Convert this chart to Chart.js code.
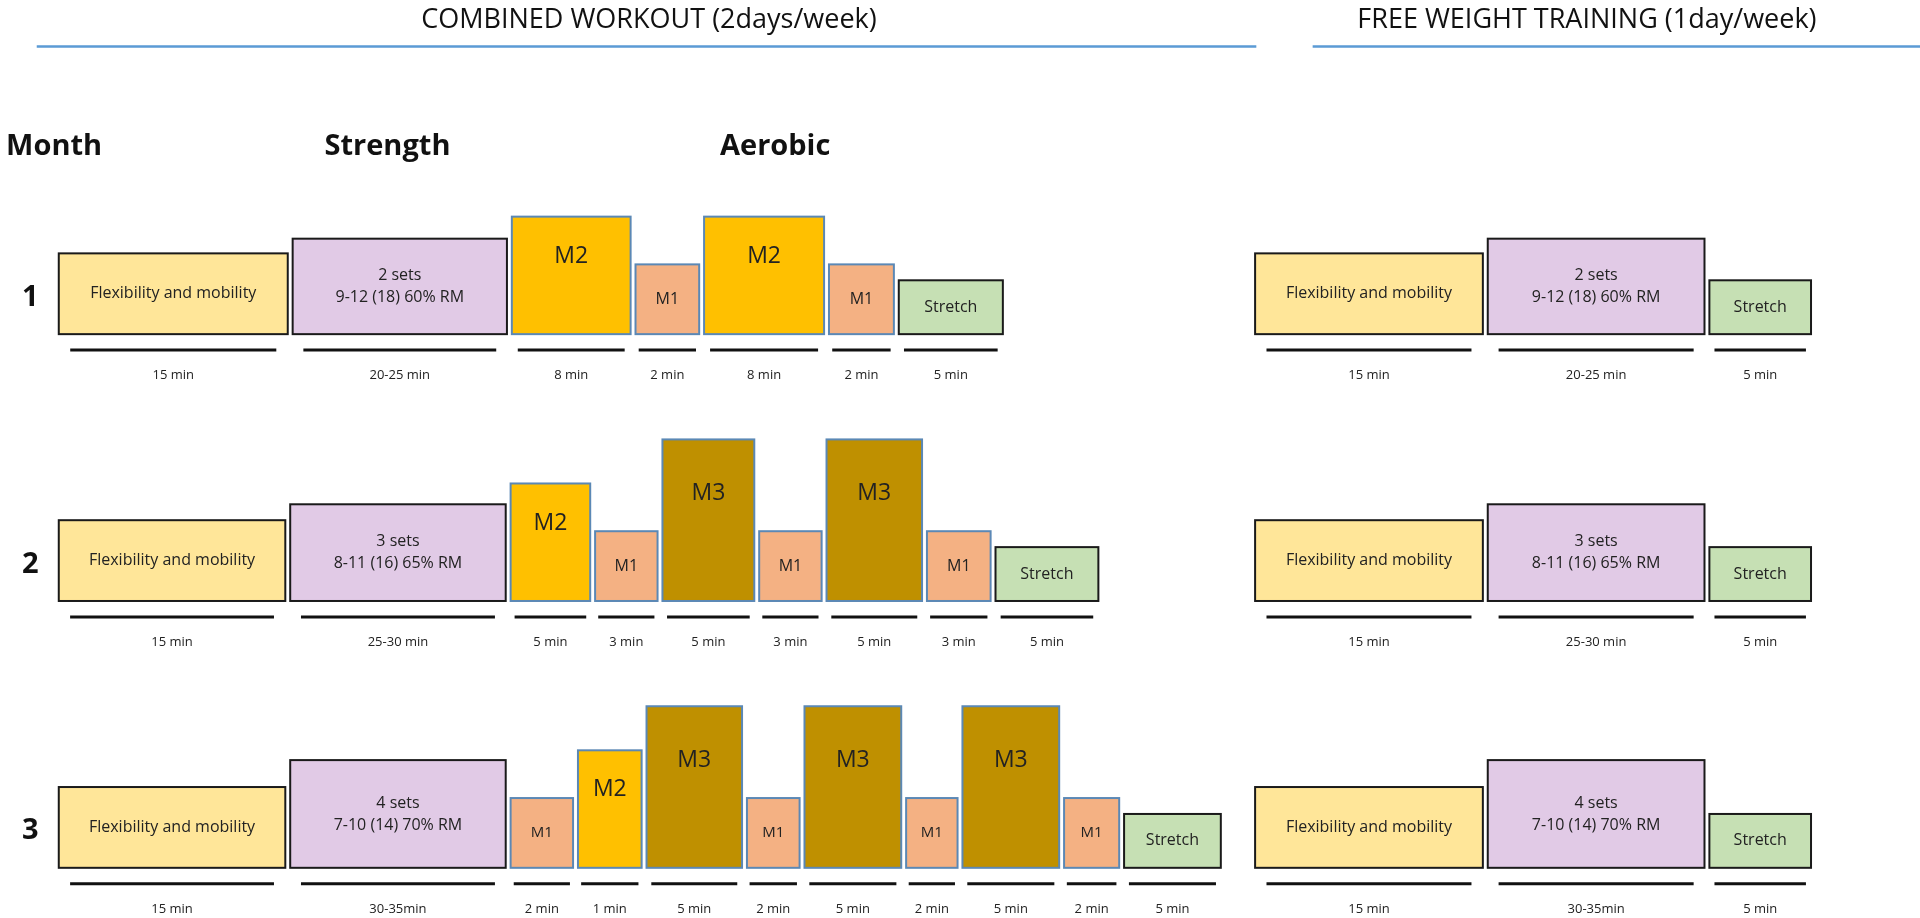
<!DOCTYPE html>
<html><head><meta charset="utf-8">
<script src="https://cdn.jsdelivr.net/npm/chart.js@4"></script>
<style>html,body{margin:0;padding:0;background:#fff}#w{width:1920px;height:918px}</style>
</head><body><div id="w"><canvas id="c"></canvas></div>
<script>
// ---- data ----
const sections = ["COMBINED WORKOUT (2days/week)", "FREE WEIGHT TRAINING (1day/week)"];
const columnHeads = ["Month", "Strength", "Aerobic"];
const months = ["1", "2", "3"];
const row1Kinds = ["flex","str","M2","M1","M2","M1","stretch"];
const row1Dur = ["15 min","20-25 min","8 min","2 min","8 min","2 min","5 min"];
const row1Width = [187,175,97,52,98,53,85];
const row2Kinds = ["flex","str","M2","M1","M3","M1","M3","M1","stretch"];
const row2Dur = ["15 min","25-30 min","5 min","3 min","5 min","3 min","5 min","3 min","5 min"];
const row2Width = [185,176,65,51,75,51,78,52,84];
const row3Kinds = ["flex","str","M1","M2","M3","M1","M3","M1","M3","M1","stretch"];
const row3Dur = ["15 min","30-35min","2 min","1 min","5 min","2 min","5 min","2 min","5 min","2 min","5 min"];
const row3Width = [185,176,51,52,78,43,79,42,79,45,79];
const strengthText = [["2 sets","9-12 (18) 60% RM"],["3 sets","8-11 (16) 65% RM"],["4 sets","7-10 (14) 70% RM"]];
const strengthHeight = [78,79,88];
const freeKinds = ["flex","str","stretch"];
const freeDur = ["15 min","20-25 min","5 min"];
const freeDur3 = ["15 min","30-35min","5 min"];
const freeDur2 = ["15 min","25-30 min","5 min"];
const freeWidth = [186,177,83];
const kindHeight = {flex:66, M2:96, M1:57, M3:132, stretch:44};
const kindLabel = {flex:"Flexibility and mobility", M1:"M1", M2:"M2", M3:"M3", stretch:"Stretch"};
const kindFill = {flex:"#FFE699", str:"#E1CAE6", M2:"#FFC000", M1:"#F4B183", M3:"#BF9000", stretch:"#C6E0B4"};
const kindBorder = {flex:"#1a1a1a", str:"#1a1a1a", M2:"#5B88B5", M1:"#5B88B5", M3:"#5B88B5", stretch:"#1a1a1a"};

const rows = [
 {kinds:row1Kinds,dur:row1Dur,w:row1Width,base:273,fdur:freeDur},
 {kinds:row2Kinds,dur:row2Dur,w:row2Width,base:491,fdur:freeDur2},
 {kinds:row3Kinds,dur:row3Dur,w:row3Width,base:709,fdur:freeDur3}
];
const K = 1920/1568;

const plugin = {id:'diagram', afterDraw(chart){
  const ctx = chart.ctx, xs = chart.scales.x, ys = chart.scales.y;
  const X = v=>xs.getPixelForValue(v), Y = v=>ys.getPixelForValue(v);
  const font = (s,b)=>(b?'bold ':'')+Math.round(s*K)+'px "Open Sans", Calibri, sans-serif';
  ctx.save();
  ctx.textBaseline='middle';
  // section titles
  ctx.fillStyle='#111'; ctx.textAlign='center'; ctx.font=font(22);
  ctx.fillText(sections[0], X(530), Y(17));
  ctx.fillText(sections[1], X(1296), Y(17));
  ctx.strokeStyle='#5B9BD5'; ctx.lineWidth=2.5;
  ctx.beginPath(); ctx.moveTo(X(30),Y(38)); ctx.lineTo(X(1026),Y(38));
  ctx.moveTo(X(1072),Y(38)); ctx.lineTo(X(1568),Y(38)); ctx.stroke();
  ctx.textAlign='left'; ctx.font=font(24,true);
  [5,265,588].forEach((x,i)=>ctx.fillText(columnHeads[i], X(x), Y(120)));
  function block(kind, x0, w, base, h, ri, durTxt){
    ctx.fillStyle=kindFill[kind]; ctx.strokeStyle=kindBorder[kind]; ctx.lineWidth=2;
    ctx.fillRect(X(x0),Y(base-h),X(x0+w)-X(x0),Y(base)-Y(base-h));
    ctx.strokeRect(X(x0),Y(base-h),X(x0+w)-X(x0),Y(base)-Y(base-h));
    ctx.fillStyle='#222'; ctx.textAlign='center';
    const cx=X(x0+w/2), cy=Y(base-h/2);
    if(kind==='str'){ ctx.font=font(13); const t=strengthText[ri];
      ctx.fillText(t[0],cx,cy-9*K); ctx.fillText(t[1],cx,cy+9*K);
    } else {
      const sz = kind==='flex'?13: kind==='stretch'?13: kind==='M1'?(ri==2?12:13): 19;
      ctx.font=font(sz); ctx.fillText(kindLabel[kind],cx,cy+(kind==='M2'||kind==='M3'?-(h*0.2):0));
    }
    // duration line + label
    ctx.strokeStyle='#111'; ctx.lineWidth=3;
    ctx.beginPath(); ctx.moveTo(X(x0+w*0.05),Y(base+13)); ctx.lineTo(X(x0+w*0.95),Y(base+13)); ctx.stroke();
    ctx.font=font(11); ctx.fillStyle='#222';
    ctx.fillText(durTxt, cx, Y(base+34));
  }
  rows.forEach((r,ri)=>{
    ctx.font=font(24,true); ctx.fillStyle='#111'; ctx.textAlign='left';
    ctx.fillText(months[ri], X(18), Y(r.base-30));
    let x=48;
    r.kinds.forEach((k,i)=>{
      const h = k==='str'?strengthHeight[ri]:kindHeight[k];
      block(k,x,r.w[i],r.base,h,ri,r.dur[i]);
      x += r.w[i]+4;
    });
    x=1025;
    freeKinds.forEach((k,i)=>{
      const h = k==='str'?strengthHeight[ri]:kindHeight[k];
      block(k,x,freeWidth[i],r.base,h,ri,r.fdur[i]);
      x += freeWidth[i]+4;
    });
  });
  ctx.restore();
}};

new Chart(document.getElementById('c'), {
  type:'scatter',
  data:{datasets:[{data:[]}]},
  options:{responsive:true, maintainAspectRatio:false, animation:false,
    layout:{padding:0},
    plugins:{legend:{display:false}, tooltip:{enabled:false}},
    scales:{x:{type:'linear',min:0,max:1568,display:false},
            y:{type:'linear',min:0,max:750,reverse:true,display:false}}},
  plugins:[plugin]
});
</script></body></html>
